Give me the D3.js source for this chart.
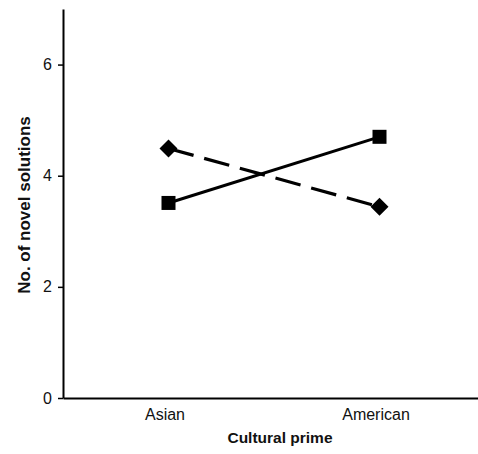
<!DOCTYPE html>
<html><head><meta charset="utf-8">
<script src="https://cdn.jsdelivr.net/npm/d3@7"></script>
<style>body{margin:0;background:#fff}svg{display:block}</style>
</head><body>
<script>
const categories = ["Asian", "American"];
const solidSeries = [3.51, 4.70];   // squares, solid line
const dashedSeries = [4.49, 3.44];  // diamonds, dashed line
const yTicks = [0, 2, 4, 6];

const W = 478, H = 454;
const svg = d3.select("body").append("svg").attr("width", W).attr("height", H);
const x = d3.scalePoint().domain(categories).range([63, 485]).padding(0.5);
const y = d3.scaleLinear().domain([0, 7]).range([398, 9]);

const font = "Liberation Sans, Arial, sans-serif";

// axes
const yAxis = svg.append("g").attr("transform", "translate(63,0)")
  .call(d3.axisLeft(y).tickValues(yTicks).tickFormat(d3.format("d")).tickSize(5).tickSizeOuter(0).tickPadding(6));
yAxis.select(".domain").attr("stroke-width", 2);
yAxis.selectAll(".tick line").attr("stroke-width", 1.5);
yAxis.selectAll("text").attr("font-family", font).attr("font-size", 16).attr("fill", "#111");

const xAxis = svg.append("g").attr("transform", "translate(0,398)")
  .call(d3.axisBottom(x).tickSize(0).tickSizeOuter(0).tickPadding(11));
xAxis.select(".domain").attr("stroke-width", 2);
xAxis.selectAll("text").attr("font-family", font).attr("font-size", 16).attr("fill", "#111")
  .attr("dx", -4);

// axis titles
svg.append("text").attr("x", 280).attr("y", 443).attr("text-anchor", "middle")
  .attr("font-family", font).attr("font-weight", "bold").attr("font-size", 15.5)
  .attr("fill", "#111").text("Cultural prime");
svg.append("text").attr("transform", "translate(30,205) rotate(-90)").attr("text-anchor", "middle")
  .attr("font-family", font).attr("font-weight", "bold").attr("font-size", 17)
  .attr("fill", "#111").text("No. of novel solutions");

const line = d3.line().x((d, i) => x(categories[i])).y(d => y(d));

svg.append("path").datum(dashedSeries).attr("d", line).attr("fill", "none")
  .attr("stroke", "#000").attr("stroke-width", 3.2).attr("stroke-dasharray", "26,11");
svg.append("path").datum(solidSeries).attr("d", line).attr("fill", "none")
  .attr("stroke", "#000").attr("stroke-width", 3);

svg.selectAll(".sq").data(solidSeries).enter().append("rect")
  .attr("x", (d, i) => x(categories[i]) - 7).attr("y", d => y(d) - 7)
  .attr("width", 14).attr("height", 14).attr("fill", "#000");

svg.selectAll(".dm").data(dashedSeries).enter().append("path")
  .attr("transform", (d, i) => `translate(${x(categories[i])},${y(d)})`)
  .attr("d", "M0,-9L9,0L0,9L-9,0Z").attr("fill", "#000");
</script>
</body></html>
